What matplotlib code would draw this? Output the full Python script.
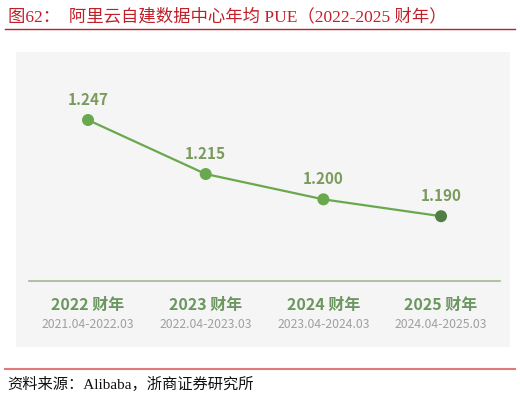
import matplotlib.pyplot as plt

plt.rcParams['font.family'] = ['Noto Sans CJK SC', 'DejaVu Sans']

# 数据
anos = ["2022 财年", "2023 财年", "2024 财年", "2025 财年"]
periodos = ["2021.04-2022.03", "2022.04-2023.03", "2023.04-2024.03", "2024.04-2025.03"]
pue = [1.247, 1.215, 1.200, 1.190]

W, H = 520, 399
fig = plt.figure(figsize=(W / 100, H / 100), dpi=100)

def fx(px):
    return px / W

def fy(py):
    return 1 - py / H

# painel cinza
ax = fig.add_axes([fx(16), fy(347), fx(510) - fx(16), fy(52) - fy(347)])
ax.set_facecolor('#f5f5f5')
for s in ax.spines.values():
    s.set_visible(False)
ax.set_xticks([])
ax.set_yticks([])
ax.set_xlim(-0.612, 3.586)
ax.set_ylim(1.1125, 1.2873)

xs = list(range(len(pue)))
ax.plot(xs, pue, color='#6aa84f', lw=1.6, zorder=2)
cores = ['#6aa84f', '#6aa84f', '#6aa84f', '#4f7f44']
ax.scatter(xs, pue, s=75, c=cores, zorder=3, edgecolors='none')
for x, v in zip(xs, pue):
    ax.annotate(f"{v:.3f}", (x, v), xytext=(0, 9), textcoords='offset points',
                ha='center', va='bottom', fontsize=11, fontweight='bold', color='#7a9a5e')

# linha de base
ax.plot([-0.5, 3.505], [1.1516, 1.1516], color='#9dbb94', lw=1.2, zorder=1)
for x, a, p in zip(xs, anos, periodos):
    ax.text(x, 1.1375, a, ha='center', va='center', fontsize=11.5, fontweight='bold', color='#6b9660')
    ax.text(x, 1.126, p, ha='center', va='center', fontsize=8.8, color='#a0a0a0')

serif_cjk = ['Liberation Serif', 'Noto Sans CJK SC']

# título
fig.text(fx(8), fy(17), "图62：  阿里云自建数据中心年均 PUE（2022-2025 财年）",
         ha='left', va='center', fontsize=12.5, color='#c0202a', family=serif_cjk)
fig.add_artist(plt.Line2D([fx(5), fx(515)], [fy(29), fy(29)], color='#c0202a', lw=1))

# fonte
fig.add_artist(plt.Line2D([fx(5), fx(515)], [fy(369), fy(369)], color='#e07b7b', lw=1.5))
fig.text(fx(7), fy(384), "资料来源：Alibaba，浙商证券研究所", ha='left', va='center',
         fontsize=11, color='#111111', family=serif_cjk)

fig.savefig('out.png', dpi=100)
